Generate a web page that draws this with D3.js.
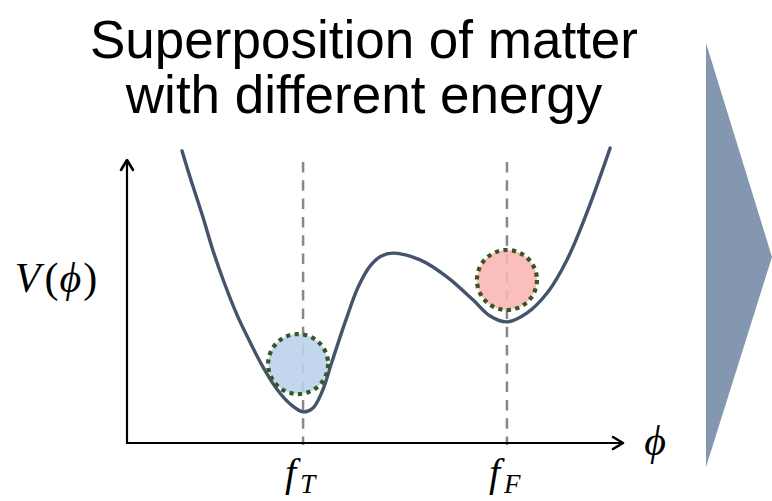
<!DOCTYPE html>
<html>
<head>
<meta charset="utf-8">
<script src="https://cdn.jsdelivr.net/npm/d3@7"></script>
<style>
  html, body { margin: 0; padding: 0; background: #fff; }
  svg { display: block; }
</style>
</head>
<body>
<svg id="chart" width="772" height="501"></svg>
<script>
// Title lines
const titleLines = ["Superposition of matter", "with different energy"];

// Double-well potential V(phi): sampled field values and potential energies
const phiValues = [11.1, 12.7, 15.3, 17.3, 19.4, 22.2, 24.8, 27.4, 30.2, 32.9, 35.5, 37.5, 39.3, 41.3,
                   44.0, 46.6, 49.0, 51.2, 53.6, 59.1, 64.5, 69.8, 73.2, 76.6, 80.6, 84.7, 88.7, 92.7, 97.4];
const potentialValues = [103.2, 94.0, 79.9, 68.2, 57.6, 45.2, 35.7, 26.9, 19.1, 13.8, 11.0, 12.4, 18.0, 28.6,
                         42.8, 55.1, 62.5, 66.0, 67.1, 64.7, 58.7, 50.5, 44.9, 42.8, 45.9, 53.0, 64.7, 81.3, 104.2];

// Marked minima: true vacuum f_T and false vacuum f_F
const minimaNames = ["T", "F"];
const minimaPhi = [35.5, 76.6];

// Matter states sitting in each well
const stateNames = ["true", "false"];
const statePhi = [34.5, 76.6];
const stateV = [27.9, 57.6];
const stateFill = ["#b9d1ea", "#f9b5b4"];

const svg = d3.select("#chart");

// Plot frame
const x = d3.scaleLinear().domain([0, 100]).range([127, 623]);
const y = d3.scaleLinear().domain([0, 100]).range([443, 160]);

// Title
svg.append("g")
  .selectAll("text")
  .data(titleLines)
  .join("text")
  .attr("x", 364)
  .attr("y", (d, i) => 58 + i * 55)
  .attr("text-anchor", "middle")
  .attr("font-family", "'Liberation Sans', Arial, sans-serif")
  .attr("font-size", 53)
  .attr("fill", "#000")
  .text(d => d);

// Dashed guides at the minima
svg.append("g")
  .selectAll("line")
  .data(minimaPhi)
  .join("line")
  .attr("x1", d => x(d)).attr("x2", d => x(d))
  .attr("y1", 162).attr("y2", y(0) + 2)
  .attr("stroke", "#888888")
  .attr("stroke-width", 2.5)
  .attr("stroke-dasharray", "10.5,7.8");

// Axes with arrowheads
const axes = svg.append("g").attr("stroke", "#000").attr("fill", "none")
  .attr("stroke-width", 2.2).attr("stroke-linecap", "round").attr("stroke-linejoin", "round");
axes.append("line").attr("x1", x(0)).attr("y1", y(0)).attr("x2", x(100) - 1).attr("y2", y(0));
axes.append("line").attr("x1", x(0)).attr("y1", y(0)).attr("x2", x(0)).attr("y2", y(100) + 1);
axes.append("path")
  .attr("d", `M${x(100) - 10},${y(0) - 6} L${x(100)},${y(0)} L${x(100) - 10},${y(0) + 6}`)
  .attr("stroke-width", 2.6);
axes.append("path")
  .attr("d", `M${x(0) - 6},${y(100) + 10} L${x(0)},${y(100)} L${x(0) + 6},${y(100) + 10}`)
  .attr("stroke-width", 2.6);

// Potential curve
const pts = phiValues.map((p, i) => [p, potentialValues[i]]);
const line = d3.line()
  .x(d => x(d[0]))
  .y(d => y(d[1]))
  .curve(d3.curveCatmullRom.alpha(0.5));
svg.append("path")
  .datum(pts)
  .attr("d", line)
  .attr("fill", "none")
  .attr("stroke", "#44546a")
  .attr("stroke-width", 3.4)
  .attr("stroke-linecap", "round");

// Matter states
svg.append("g")
  .selectAll("circle")
  .data(stateNames.map((n, i) => ({ n, p: statePhi[i], v: stateV[i], c: stateFill[i] })))
  .join("circle")
  .attr("cx", d => x(d.p))
  .attr("cy", d => y(d.v))
  .attr("r", 30)
  .attr("fill", d => d.c)
  .attr("fill-opacity", 0.88)
  .attr("stroke", "#375623")
  .attr("stroke-width", 4.2)
  .attr("stroke-dasharray", "4.2,4.4");

// Minimum labels f_T, f_F
const serif = "'Liberation Serif', 'Times New Roman', serif";
const minLabels = svg.append("g")
  .selectAll("text")
  .data(minimaNames.map((n, i) => ({ n, p: minimaPhi[i] })))
  .join("text")
  .attr("x", d => x(d.p) - 18)
  .attr("y", 486)
  .attr("font-family", serif)
  .attr("font-style", "italic")
  .attr("font-size", 40)
  .attr("fill", "#000");
minLabels.append("tspan").text("f");
minLabels.append("tspan")
  .attr("dx", 4)
  .attr("dy", 7)
  .attr("font-size", 27)
  .text(d => d.n);

// Axis titles
const vLabel = svg.append("text")
  .attr("x", 56)
  .attr("y", 292)
  .attr("text-anchor", "middle")
  .attr("font-family", serif)
  .attr("font-size", 42)
  .attr("fill", "#000");
vLabel.append("tspan").attr("font-style", "italic").text("V");
vLabel.append("tspan").attr("dx", 4).text("(");
vLabel.append("tspan").attr("font-style", "italic").attr("dx", 1).text("\u03D5");
vLabel.append("tspan").attr("dx", 2).text(")");

svg.append("text")
  .attr("x", 655)
  .attr("y", 455)
  .attr("text-anchor", "middle")
  .attr("font-family", serif)
  .attr("font-style", "italic")
  .attr("font-size", 42)
  .attr("fill", "#000")
  .text("\u03D5");

// Transition arrow on the right
svg.append("path")
  .attr("d", "M706,43 L772,257 L706,467 Z")
  .attr("fill", "#8497b0");
</script>
</body>
</html>
